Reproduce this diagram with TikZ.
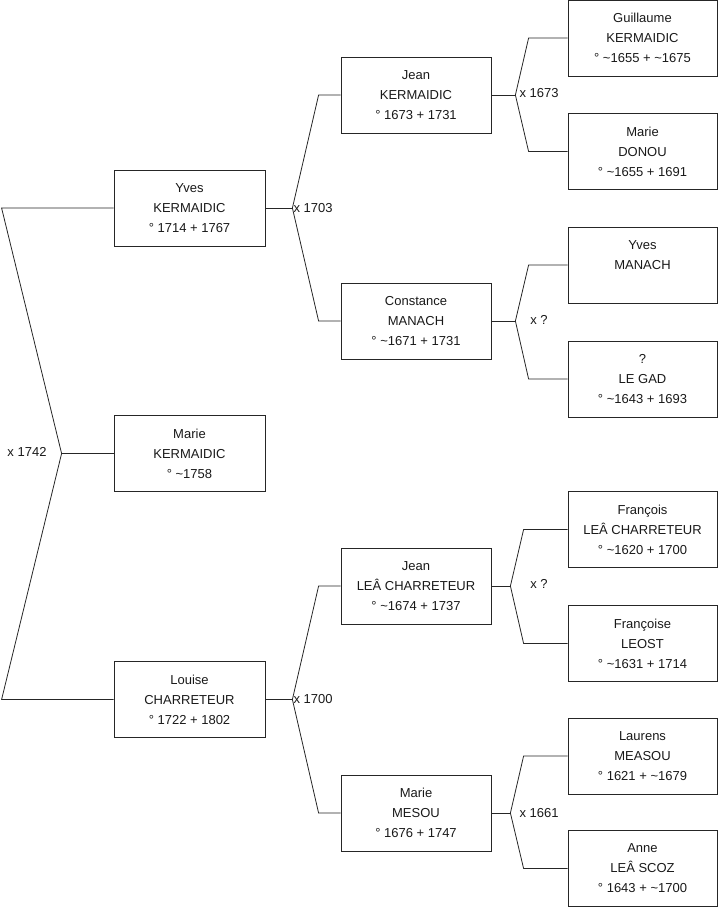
\documentclass[tikz,border=0pt]{standalone}
\usepackage{fontspec}
\setmainfont{Liberation Sans}
\begin{document}
\begin{tikzpicture}[x=1pt,y=-1pt,
  person/.style={draw=black!85, line width=0.8pt, minimum height=76pt, inner sep=0pt,
    align=center, font=\fontsize{13}{20}\selectfont, text=black!90},
  g1/.style={person, minimum width=151pt},
  g2/.style={person, minimum width=150pt},
  g3/.style={person, minimum width=149pt},
  link/.style={draw=black!85, line width=0.8pt},
  marr/.style={font=\fontsize{13}{16}\selectfont, text=black!90, inner sep=1pt}]
\useasboundingbox (0,0) rectangle (719,908);
% generation 1
\node[g1] (yves) at (189.5,208) {Yves\\KERMAIDIC\\° 1714 + 1767};
\node[g1] (marie) at (189.5,453.5) {Marie\\KERMAIDIC\\° \textasciitilde1758};
\node[g1] (louise) at (189.5,699.5) {Louise\\CHARRETEUR\\° 1722 + 1802};
% generation 2
\node[g2] (jeank) at (416,95) {Jean\\KERMAIDIC\\° 1673 + 1731};
\node[g2] (constance) at (416,321) {Constance\\MANACH\\° \textasciitilde1671 + 1731};
\node[g2] (jeanl) at (416,586) {Jean\\LEÂ CHARRETEUR\\° \textasciitilde1674 + 1737};
\node[g2] (mariem) at (416,813) {Marie\\MESOU\\° 1676 + 1747};
% generation 3
\node[g3] (guillaume) at (642.5,38) {Guillaume\\KERMAIDIC\\° \textasciitilde1655 + \textasciitilde1675};
\node[g3] (maried) at (642.5,151.5) {Marie\\DONOU\\° \textasciitilde1655 + 1691};
\node[g3] (yvesm) at (642.5,265) {Yves\\MANACH\\\mbox{}};
\node[g3] (legad) at (642.5,379) {?\\LE GAD\\° \textasciitilde1643 + 1693};
\node[g3] (francois) at (642.5,529.5) {François\\LEÂ CHARRETEUR\\° \textasciitilde1620 + 1700};
\node[g3] (francoise) at (642.5,643.5) {Françoise\\LEOST\\° \textasciitilde1631 + 1714};
\node[g3] (laurens) at (642.5,756) {Laurens\\MEASOU\\° 1621 + \textasciitilde1679};
\node[g3] (anne) at (642.5,868.5) {Anne\\LEÂ SCOZ\\° 1643 + \textasciitilde1700};
% junction points
\coordinate (l1) at ([xshift=-112pt]yves.west);
\coordinate (l2) at ([xshift=-112pt]louise.west);
\coordinate (j0) at ([xshift=-52pt]marie.west);
\coordinate (j1) at ([xshift=27pt]yves.east);
\coordinate (j2) at ([xshift=27pt]louise.east);
\coordinate (j3) at ([xshift=24pt]jeank.east);
\coordinate (j4) at ([xshift=24pt]constance.east);
\coordinate (j5) at ([xshift=19pt]jeanl.east);
\coordinate (j6) at ([xshift=19pt]mariem.east);
% connectors
\draw[link] (yves.west) -- (l1) -- (j0) -- (l2) -- (louise.west);
\draw[link] (j0) -- (marie.west);
\draw[link] (yves.east) -- (j1);
\draw[link] (jeank.west) -- ([xshift=-22pt]jeank.west) -- (j1) -- ([xshift=-22pt]constance.west) -- (constance.west);
\draw[link] (louise.east) -- (j2);
\draw[link] (jeanl.west) -- ([xshift=-22pt]jeanl.west) -- (j2) -- ([xshift=-22pt]mariem.west) -- (mariem.west);
\draw[link] (jeank.east) -- (j3);
\draw[link] (guillaume.west) -- ([xshift=-39pt]guillaume.west) -- (j3) -- ([xshift=-39pt]maried.west) -- (maried.west);
\draw[link] (constance.east) -- (j4);
\draw[link] (yvesm.west) -- ([xshift=-39pt]yvesm.west) -- (j4) -- ([xshift=-39pt]legad.west) -- (legad.west);
\draw[link] (jeanl.east) -- (j5);
\draw[link] (francois.west) -- ([xshift=-44pt]francois.west) -- (j5) -- ([xshift=-44pt]francoise.west) -- (francoise.west);
\draw[link] (mariem.east) -- (j6);
\draw[link] (laurens.west) -- ([xshift=-44pt]laurens.west) -- (j6) -- ([xshift=-44pt]anne.west) -- (anne.west);
% marriage labels
\node[marr] (m0) at (27,452) {x 1742};
\node[marr, anchor=west] (m1) at (j1) {x 1703};
\node[marr, anchor=west] (m2) at (j2) {x 1700};
\node[marr, anchor=west] (m3) at ([xshift=3pt,yshift=2pt]j3) {x 1673};
\node[marr] (m4) at (539,320) {x ?};
\node[marr] (m5) at (539,584) {x ?};
\node[marr, anchor=west] (m6) at ([xshift=8pt]j6) {x 1661};
\end{tikzpicture}
\end{document}
